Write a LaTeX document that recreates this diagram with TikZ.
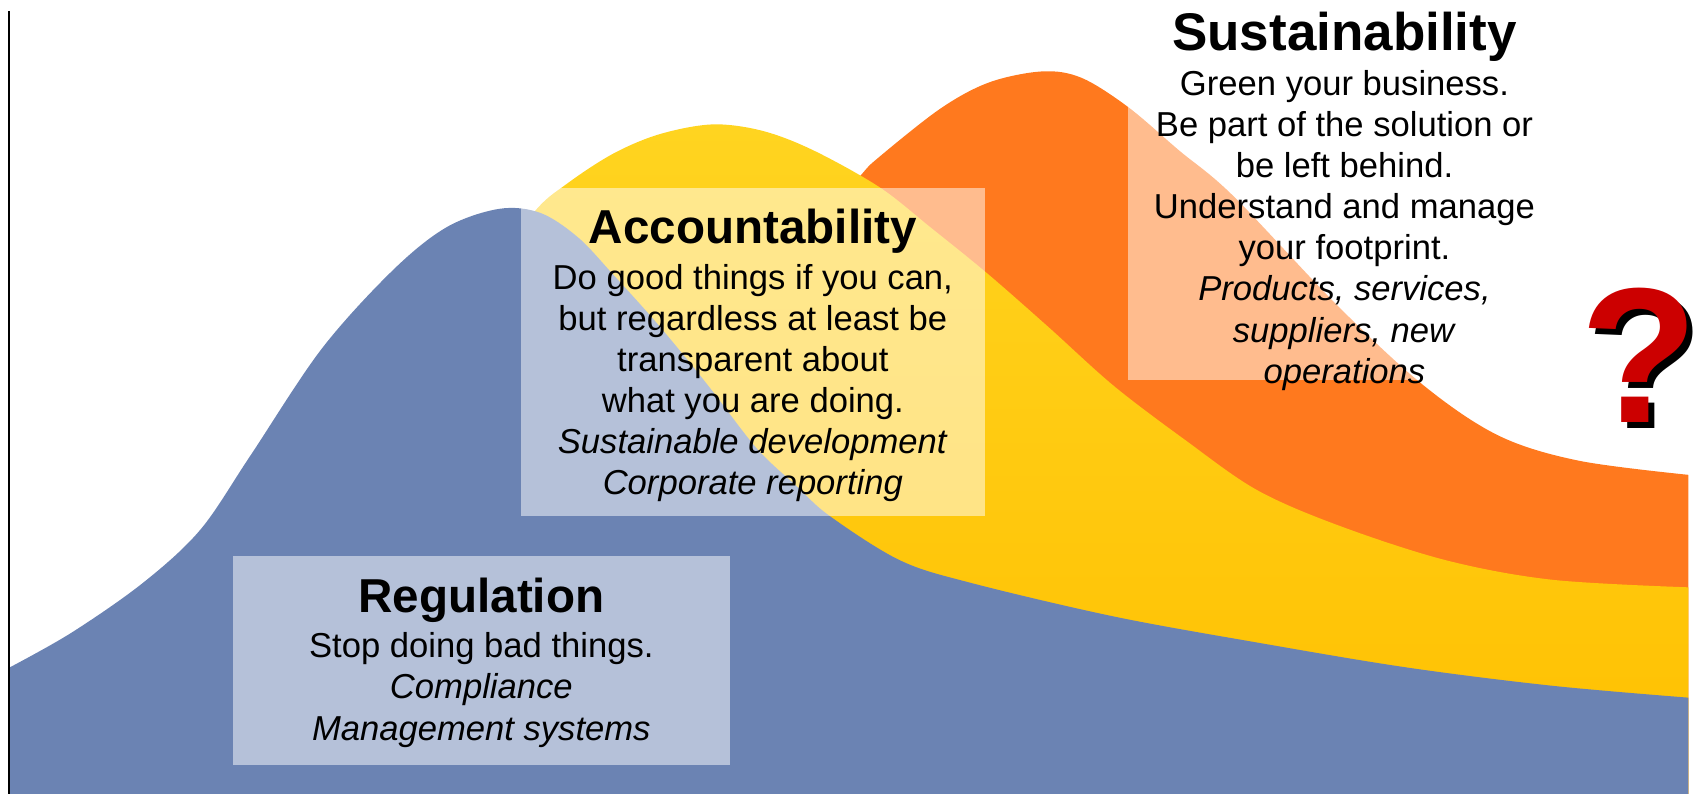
\documentclass[tikz,border=0pt]{standalone}
\usepackage{fontspec}
\setmainfont{Liberation Sans}
\usepackage{tikz}
\usetikzlibrary{positioning}
\definecolor{regblue}{RGB}{107,131,179}
\definecolor{accyellow}{RGB}{255,192,0}
\definecolor{accyellowtop}{RGB}{255,212,32}
\definecolor{susorange}{RGB}{255,121,30}
\definecolor{qred}{RGB}{204,0,0}

\begin{document}
\begin{tikzpicture}[x=1pt,y=-1pt,
  panel/.style={fill=white,fill opacity=0.5,inner sep=0pt,draw=none},
  headline/.style={anchor=base,inner sep=0pt,font=\bfseries\fontsize{44}{50}\selectfont},
  bodytext/.style={anchor=north,inner sep=0pt,align=center,font=\fontsize{32}{38}\selectfont},
  qmark/.style={anchor=base,inner ysep=0pt,inner xsep=-8pt,font=\bfseries\fontsize{178}{200}\selectfont}]
\useasboundingbox (0,0) rectangle (1568,734);
\fill[susorange] (700,734) -- plot[smooth,tension=0.55] coordinates {(700,330) (752,215) (795,163) (813,145) (870,100) (915,76) (964,66) (1000,72) (1043,99) (1090,139) (1140,181) (1238,284) (1317,357) (1386,403) (1460,426) (1561,439)} -- (1561,734) -- cycle;
\shade[top color=accyellowtop,bottom color=accyellow] (380,734) -- plot[smooth,tension=0.55] coordinates {(380,400) (440,270) (493,197) (524,170) (567,142) (610,124) (659,115) (705,121) (752,139) (813,173) (860,210) (913,253) (970,303) (1030,357) (1096,407) (1162,453) (1238,486) (1337,518) (1435,536) (1561,543)} -- (1561,734) -- cycle;
\fill[regblue] (9,734) -- plot[smooth,tension=0.55] coordinates {(9,617) (66,585) (132,539) (185,490) (231,422) (297,323) (363,250) (413,210) (462,193) (500,197) (535,220) (567,254) (604,295) (635,332) (659,362) (700,415) (736,449) (767,477) (832,518) (898,539) (1030,570) (1162,594) (1300,617) (1435,634) (1561,645)} -- (1561,734) -- cycle;
\draw[line width=1.3] (8.5,10) -- (8.5,734);

\node[panel,minimum width=460,minimum height=193] (regbox) at (445,610.5) {};
\node[panel,minimum width=429,minimum height=303] (accbox) at (696.5,325.5) {};
\node[panel,minimum width=400,minimum height=252] (susbox) at (1243,225) {};

\node[headline] (reg) at (445,566) {Regulation};
\node[bodytext] (regtxt) at (445,581.4) {\strut Stop doing bad things.\\ \textit{Compliance}\\ \textit{Management systems}};

\node[headline] (acc) at (696,225) {Accountability};
\node[bodytext] (acctxt) at (696,240.4) {\strut Do good things if you can,\\ but regardless at least be\\ transparent about\\ what you are doing.\\ \textit{Sustainable development}\\ \textit{Corporate reporting}};

\node[headline,font=\bfseries\fontsize{49}{56}\selectfont] (sus) at (1243,47) {Sustainability};
\node[bodytext] (sustxt) at (1243,61.4) {\strut Green your business.\\ Be part of the solution or\\ be left behind.\\ Understand and manage\\ your footprint.\\ \textit{Products, services,}\\ \textit{suppliers, new}\\ \textit{operations}};

\node[qmark,text=black] (qshadow) at (1521,396) {?};
\node[qmark,text=qred] (q) at (1516,391) {?};
\end{tikzpicture}
\end{document}
